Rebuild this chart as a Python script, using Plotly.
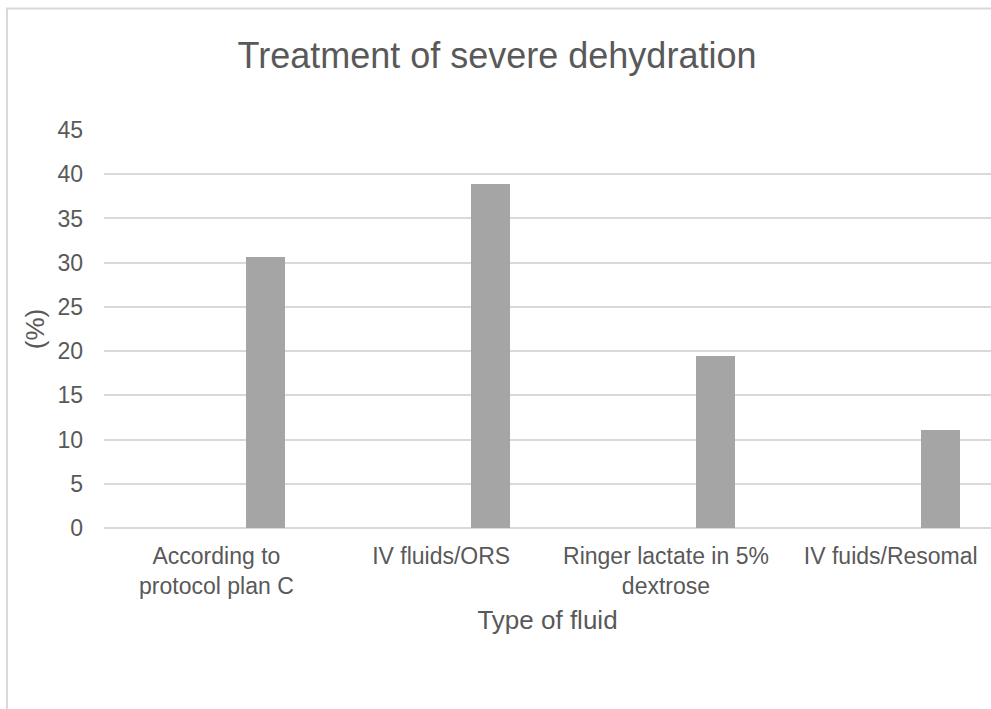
import plotly.graph_objects as go

categories = ["According to<br>protocol plan C", "IV fluids/ORS",
              "Ringer lactate in 5%<br>dextrose", "IV fuids/Resomal"]
percent = [30.6, 38.9, 19.4, 11.1]
y_ticks = [0, 5, 10, 15, 20, 25, 30, 35, 40, 45]

grey_text = "#595959"
grid = "#d9d9d9"
font = "Liberation Sans, Arial, sans-serif"

fig = go.Figure()

fig.add_trace(go.Bar(
    x=categories, y=percent,
    marker=dict(color="#a5a5a5", line=dict(width=0)),
    offset=0.1335, width=0.1735,
    showlegend=False,
))

fig.update_layout(
    width=991, height=709,
    margin=dict(l=104, r=0, t=130, b=181, pad=0),
    paper_bgcolor="white", plot_bgcolor="white",
    font=dict(family=font, color=grey_text, size=23),
    title=dict(text="Treatment of severe dehydration",
               font=dict(size=36, color=grey_text, family=font),
               x=0.5015, xref="container", xanchor="center",
               y=0.922, yref="container", yanchor="middle"),
    bargap=0,
)

fig.update_xaxes(
    type="category", range=[-0.5, 3.446],
    showgrid=False, showline=False, zeroline=False,
    ticks="", ticklabelstandoff=12, tickfont=dict(size=23, color=grey_text),
    title=dict(text="Type of fluid", font=dict(size=26, color=grey_text), standoff=12),
)

fig.update_yaxes(
    range=[0, 45], tickvals=y_ticks,
    showgrid=True, gridcolor=grid, gridwidth=1.5,
    zeroline=True, zerolinecolor=grid, zerolinewidth=1.5,
    showline=False, ticks="", ticklabelstandoff=20,
    tickfont=dict(size=23, color=grey_text),
    title=dict(text="(%)", font=dict(size=26, color=grey_text), standoff=5),
)

# light grey chart-area border (right and bottom edges fall outside the picture)
fig.add_shape(type="rect", xref="paper", yref="paper",
              x0=-0.1094, x1=1.05, y0=-0.5, y1=1.305,
              line=dict(color=grid, width=2), fillcolor="rgba(0,0,0,0)", layer="below")

fig.write_html("out.html", config={"displayModeBar": False},
               post_script="document.body.style.margin='0';document.body.style.overflow='hidden';")
